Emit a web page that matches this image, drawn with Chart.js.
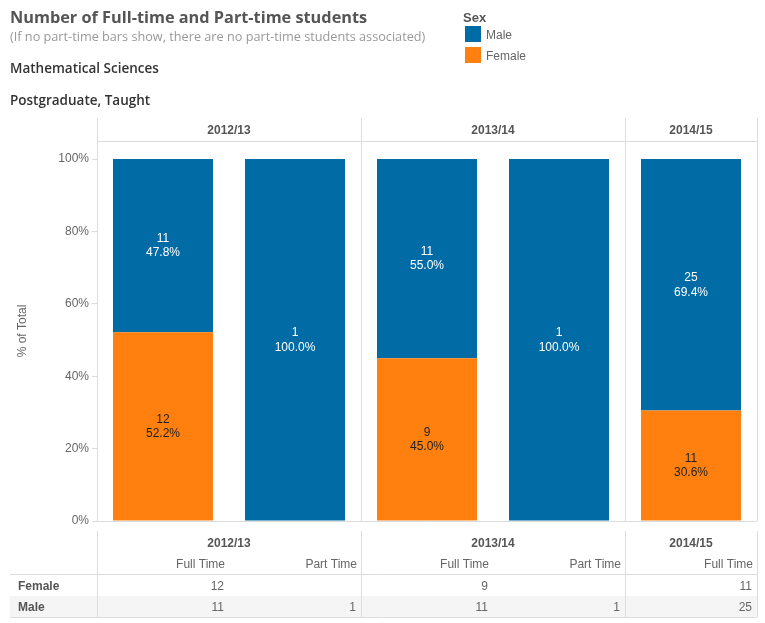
<!DOCTYPE html>
<html>
<head>
<meta charset="utf-8">
<script src="https://cdn.jsdelivr.net/npm/chart.js@4"></script>
<style>
  html, body { margin: 0; padding: 0; background: #fff; }
  #wrap { position: relative; width: 765px; height: 623px; overflow: hidden; }
  #c { position: absolute; left: 0; top: 0; }
  .t { position: absolute; white-space: nowrap; font-family: "Open Sans", Lato, sans-serif; }
  .lg { position: absolute; white-space: nowrap; font-family: "Liberation Sans", Arial, sans-serif; }
  .sw { position: absolute; width: 16px; height: 16px; }
</style>
</head>
<body>
<div id="wrap">
  <canvas id="c" width="765" height="623"></canvas>
  <div class="t" style="left:10px;top:6px;font-size:16.3px;font-weight:700;color:#555;">Number of Full-time and Part-time students</div>
  <div class="t" style="left:10px;top:27px;font-size:12.7px;color:#999;">(If no part-time bars show, there are no part-time students associated)</div>
  <div class="t" style="left:10px;top:59px;font-size:13.5px;font-weight:600;color:#333;">Mathematical Sciences</div>
  <div class="t" style="left:10px;top:91px;font-size:13.5px;font-weight:600;color:#333;">Postgraduate, Taught</div>
  <div id="legend"></div>
</div>
<script>
// Academic years shown as column groups, and the study mode of each bar
const years = ['2012/13', '2013/14', '2014/15'];
const barYear = [0, 0, 1, 1, 2];
const barMode = ['Full Time', 'Part Time', 'Full Time', 'Part Time', 'Full Time'];

// Student head counts per bar (null = no students of that sex)
const femaleCounts = [12, null, 9, null, 11];
const maleCounts = [11, 1, 11, 1, 25];

// Value axis ticks (% of total)
const yTicks = [0, 20, 40, 60, 80, 100];

const seriesNames = ['Male', 'Female'];
const seriesColors = { Male: '#006BA4', Female: '#FF800E' };

const totals = maleCounts.map((m, i) => (m || 0) + (femaleCounts[i] || 0));
const toPct = arr => arr.map((v, i) => v == null ? null : v / totals[i] * 100);
const femalePct = toPct(femaleCounts);
const malePct = toPct(maleCounts);

// Legend
const legend = document.getElementById('legend');
legend.innerHTML = '<div class="lg" style="left:463px;top:10px;font-size:13px;font-weight:700;color:#555;">Sex</div>' +
  seriesNames.map((n, i) =>
    `<div class="sw" style="left:465px;top:${26 + i * 21}px;background:${seriesColors[n]};"></div>` +
    `<div class="lg" style="left:486px;top:${28 + i * 21}px;font-size:12px;color:#666;">${n}</div>`
  ).join('');

const AXIS_FONT = '"Liberation Sans", Arial, sans-serif';
const LINE = '#dcdcdc';

// Group geometry helpers derived from the category scale
function slotInfo(chart) {
  const x = chart.scales.x;
  const n = barYear.length;
  const slot = (chart.chartArea.right - chart.chartArea.left) / n;
  return barYear.map((yr, i) => {
    const c = x.getPixelForValue(i);
    return { c, l: c - slot / 2, r: c + slot / 2 };
  });
}
function groups(chart) {
  const s = slotInfo(chart);
  return years.map((y, gi) => {
    const idx = barYear.map((g, i) => g === gi ? i : -1).filter(i => i >= 0);
    return { label: y, l: s[idx[0]].l, r: s[idx[idx.length - 1]].r };
  });
}

const framePlugin = {
  id: 'frames',
  beforeDatasetsDraw(chart) {
    const ctx = chart.ctx;
    const a = chart.chartArea;
    const gs = groups(chart);
    const headTop = a.top - 23;
    ctx.save();
    ctx.strokeStyle = LINE;
    ctx.lineWidth = 1;
    // panel borders and header rule
    const xs = [gs[0].l].concat(gs.map(g => g.r));
    xs.forEach(x => {
      const px = Math.round(x) + 0.5;
      ctx.beginPath(); ctx.moveTo(px, headTop); ctx.lineTo(px, a.bottom); ctx.stroke();
    });
    ctx.beginPath(); ctx.moveTo(a.left, a.top + 0.5); ctx.lineTo(a.right, a.top + 0.5); ctx.stroke();
    ctx.beginPath(); ctx.moveTo(a.left - 5, a.bottom + 0.5); ctx.lineTo(a.right, a.bottom + 0.5); ctx.stroke();
    // column headers
    ctx.fillStyle = '#555';
    ctx.font = 'bold 12px ' + AXIS_FONT;
    ctx.textAlign = 'center';
    ctx.textBaseline = 'middle';
    gs.forEach(g => ctx.fillText(g.label, (g.l + g.r) / 2, headTop + 12.5));
    ctx.restore();
  },
  afterDatasetsDraw(chart) {
    const ctx = chart.ctx;
    ctx.save();
    ctx.font = '12px ' + AXIS_FONT;
    ctx.textAlign = 'center';
    ctx.textBaseline = 'middle';
    const counts = [femaleCounts, maleCounts];
    const pcts = [femalePct, malePct];
    chart.data.datasets.forEach((ds, di) => {
      const meta = chart.getDatasetMeta(di);
      ctx.fillStyle = ds.label === 'Male' ? '#fff' : '#222';
      meta.data.forEach((bar, i) => {
        if (counts[di][i] == null) return;
        const cy = (bar.y + bar.base) / 2;
        ctx.fillText(String(counts[di][i]), bar.x, cy - 7);
        ctx.fillText(pcts[di][i].toFixed(1) + '%', bar.x, cy + 7.5);
      });
    });
    ctx.restore();
  },
  afterDraw(chart) {
    // summary table under the plot
    const ctx = chart.ctx;
    const a = chart.chartArea;
    const gs = groups(chart);
    const s = slotInfo(chart);
    const top = a.bottom + 10;
    const rowLine = top + 43;
    const rows = [{ name: 'Female', vals: femaleCounts }, { name: 'Male', vals: maleCounts }];
    ctx.save();
    // shaded second row
    ctx.fillStyle = '#f5f5f5';
    ctx.fillRect(10, rowLine + 22, a.right - 10, 21);
    ctx.strokeStyle = LINE;
    ctx.lineWidth = 1;
    const xs = [gs[0].l].concat(gs.map(g => g.r));
    xs.forEach(x => {
      const px = Math.round(x) + 0.5;
      ctx.beginPath(); ctx.moveTo(px, top); ctx.lineTo(px, rowLine + 43); ctx.stroke();
    });
    ctx.beginPath(); ctx.moveTo(10, rowLine + 0.5); ctx.lineTo(a.right, rowLine + 0.5); ctx.stroke();
    ctx.beginPath(); ctx.moveTo(10, rowLine + 43.5); ctx.lineTo(a.right, rowLine + 43.5); ctx.stroke();
    ctx.textBaseline = 'middle';
    ctx.font = 'bold 12px ' + AXIS_FONT;
    ctx.fillStyle = '#555';
    ctx.textAlign = 'center';
    gs.forEach(g => ctx.fillText(g.label, (g.l + g.r) / 2, top + 13));
    ctx.font = '12px ' + AXIS_FONT;
    ctx.fillStyle = '#666';
    ctx.textAlign = 'right';
    s.forEach((sl, i) => ctx.fillText(barMode[i], sl.r - 4, top + 34));
    rows.forEach((row, ri) => {
      const y = rowLine + 13 + ri * 21;
      ctx.font = 'bold 12px ' + AXIS_FONT;
      ctx.fillStyle = '#555';
      ctx.textAlign = 'left';
      ctx.fillText(row.name, 18, y);
      ctx.font = '12px ' + AXIS_FONT;
      ctx.fillStyle = '#666';
      ctx.textAlign = 'right';
      row.vals.forEach((v, i) => { if (v != null) ctx.fillText(String(v), s[i].r - 5, y); });
    });
    ctx.restore();
  }
};

new Chart(document.getElementById('c'), {
  type: 'bar',
  data: {
    labels: barMode.map((m, i) => years[barYear[i]] + ' ' + m),
    datasets: [
      { label: 'Female', data: femalePct, backgroundColor: seriesColors.Female },
      { label: 'Male', data: malePct, backgroundColor: seriesColors.Male }
    ]
  },
  options: {
    responsive: false,
    animation: false,
    events: [],
    layout: { padding: { top: 141, bottom: 102, left: 0, right: 8 } },
    datasets: { bar: { categoryPercentage: 1, barPercentage: 100 / 132, borderWidth: 0 } },
    plugins: { legend: { display: false }, tooltip: { enabled: false } },
    scales: {
      x: { stacked: true, display: false, offset: true },
      y: {
        stacked: true,
        min: 0,
        max: 105,
        afterFit(scale) { scale.width = 97; },
        afterBuildTicks(scale) { scale.ticks = yTicks.map(v => ({ value: v })); },
        ticks: { callback: v => v + '%', color: '#666', font: { family: AXIS_FONT, size: 12 }, padding: 3 },
        grid: { drawOnChartArea: false, tickLength: 5, color: LINE },
        border: { display: true, color: LINE },
        title: { display: true, text: '% of Total', color: '#666', font: { family: AXIS_FONT, size: 12 }, padding: { top: 15, bottom: 0 } }
      }
    }
  },
  plugins: [framePlugin]
});
</script>
</body>
</html>
